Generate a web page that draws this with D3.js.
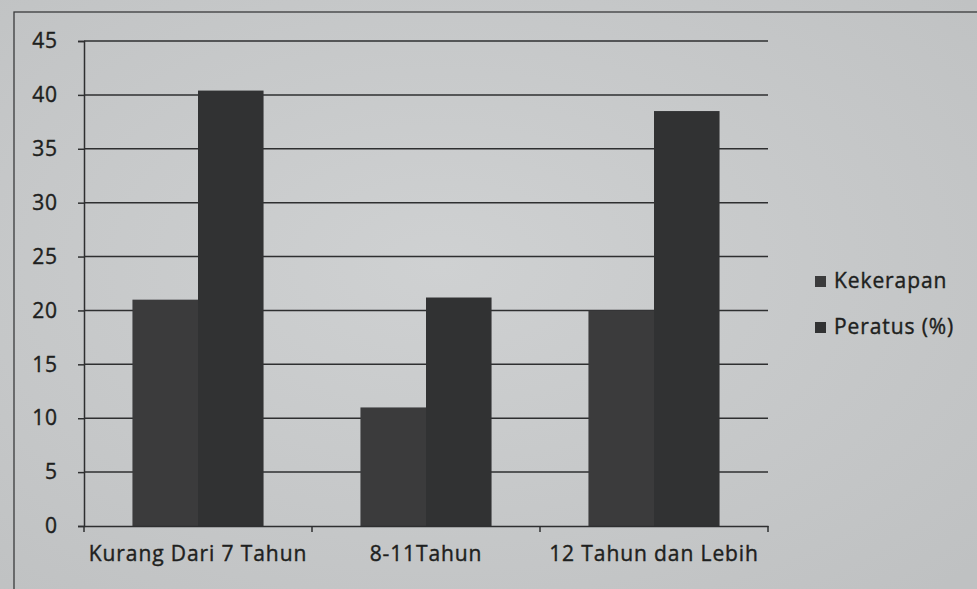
<!DOCTYPE html>
<html>
<head>
<meta charset="utf-8">
<script src="https://cdn.jsdelivr.net/npm/d3@7"></script>
<style>
  body { margin: 0; background: #c8cacb; overflow: hidden; }
  svg { display: block; }
  .lbl { font-family: "Open Sans", sans-serif; font-size: 21px; letter-spacing: 0.9px;
         fill: #1e1f20; stroke: #1e1f20; stroke-width: 0.4px; }
</style>
</head>
<body>
<script>
// categories and values
var categories = ["Kurang Dari 7 Tahun", "8-11Tahun", "12 Tahun dan Lebih"];
var seriesNames = ["Kekerapan", "Peratus (%)"];
var kekerapan = [21, 11, 20];
var peratus = [40.4, 21.2, 38.5];
var yTicks = [0, 5, 10, 15, 20, 25, 30, 35, 40, 45];

var barCols = ["#3b3b3c", "#313233"];
var gridCol = "#2e2f30";

var W = 977, H = 589;
var margin = {top: 41, right: 209, bottom: 63, left: 84},
    width = W - margin.left - margin.right,
    height = H - margin.top - margin.bottom;

var svg = d3.select("body").append("svg")
    .attr("width", W)
    .attr("height", H);

// page tone, a little darker at the edges like the photo
var grad = svg.append("defs").append("radialGradient")
    .attr("id", "paper").attr("cx", "45%").attr("cy", "45%").attr("r", "75%");
grad.append("stop").attr("offset", "0%").attr("stop-color", "#cfd1d2");
grad.append("stop").attr("offset", "100%").attr("stop-color", "#bfc1c2");
svg.append("rect").attr("width", W).attr("height", H).attr("fill", "url(#paper)");

// chart area border
svg.append("rect")
    .attr("x", 14).attr("y", 12)
    .attr("width", W + 20).attr("height", H + 20)
    .attr("fill", "none")
    .attr("stroke", "#3a3b3c")
    .attr("stroke-width", 1.3);

var g = svg.append("g")
    .attr("transform", "translate(" + margin.left + "," + margin.top + ")");

var x0 = d3.scaleBand()
    .domain(categories)
    .range([0, width])
    .paddingInner(0.425)
    .paddingOuter(0.2125);

var x1 = d3.scaleBand()
    .domain(seriesNames)
    .range([0, x0.bandwidth()]);

var y = d3.scaleLinear()
    .domain([0, 45])
    .range([height, 0]);

// gridlines
g.selectAll(".grid")
    .data(yTicks.slice(1))
    .enter().append("line")
    .attr("x1", 0).attr("x2", width)
    .attr("y1", function(d) { return y(d); })
    .attr("y2", function(d) { return y(d); })
    .attr("stroke", gridCol)
    .attr("stroke-width", 1.5);

// bars
var rows = categories.map(function(c, i) {
    return {cat: c, vals: [kekerapan[i], peratus[i]]};
});

var grp = g.selectAll(".grp")
    .data(rows)
    .enter().append("g")
    .attr("transform", function(d) { return "translate(" + x0(d.cat) + ",0)"; });

grp.selectAll("rect")
    .data(function(d) {
        return d.vals.map(function(v, j) { return {s: seriesNames[j], v: v, j: j}; });
    })
    .enter().append("rect")
    .attr("x", function(d) { return x1(d.s); })
    .attr("width", x1.bandwidth())
    .attr("y", function(d) { return y(d.v); })
    .attr("height", function(d) { return height - y(d.v); })
    .attr("fill", function(d) { return barCols[d.j]; });

// y axis
var yAxis = g.append("g")
    .call(d3.axisLeft(y).tickValues(yTicks).tickSize(6).tickPadding(20));
yAxis.select(".domain").attr("stroke", gridCol).attr("stroke-width", 1.5);
yAxis.selectAll(".tick line").attr("stroke", gridCol).attr("stroke-width", 1.5);
yAxis.selectAll("text").attr("class", "lbl").attr("fill", null);

// x axis: ticks sit between the categories
var xAxis = g.append("g")
    .attr("transform", "translate(0," + height + ")")
    .call(d3.axisBottom(x0).tickSize(0).tickPadding(20));
xAxis.select(".domain").attr("stroke", gridCol).attr("stroke-width", 1.5);
xAxis.selectAll("text").attr("class", "lbl").attr("fill", null);

var step = width / categories.length;
g.selectAll(".xtick")
    .data(d3.range(categories.length + 1))
    .enter().append("line")
    .attr("x1", function(d) { return d * step; })
    .attr("x2", function(d) { return d * step; })
    .attr("y1", height).attr("y2", height + 6)
    .attr("stroke", gridCol)
    .attr("stroke-width", 1.5);

// legend
var legend = svg.append("g")
    .attr("transform", "translate(815,281)");

var item = legend.selectAll(".item")
    .data(seriesNames)
    .enter().append("g")
    .attr("transform", function(d, i) { return "translate(0," + (i * 46) + ")"; });

item.append("rect")
    .attr("x", 0).attr("y", -5)
    .attr("width", 11).attr("height", 11)
    .attr("fill", function(d, i) { return barCols[i]; });

item.append("text")
    .attr("class", "lbl")
    .attr("x", 19)
    .attr("dy", "0.35em")
    .text(function(d) { return d; });
</script>
</body>
</html>
